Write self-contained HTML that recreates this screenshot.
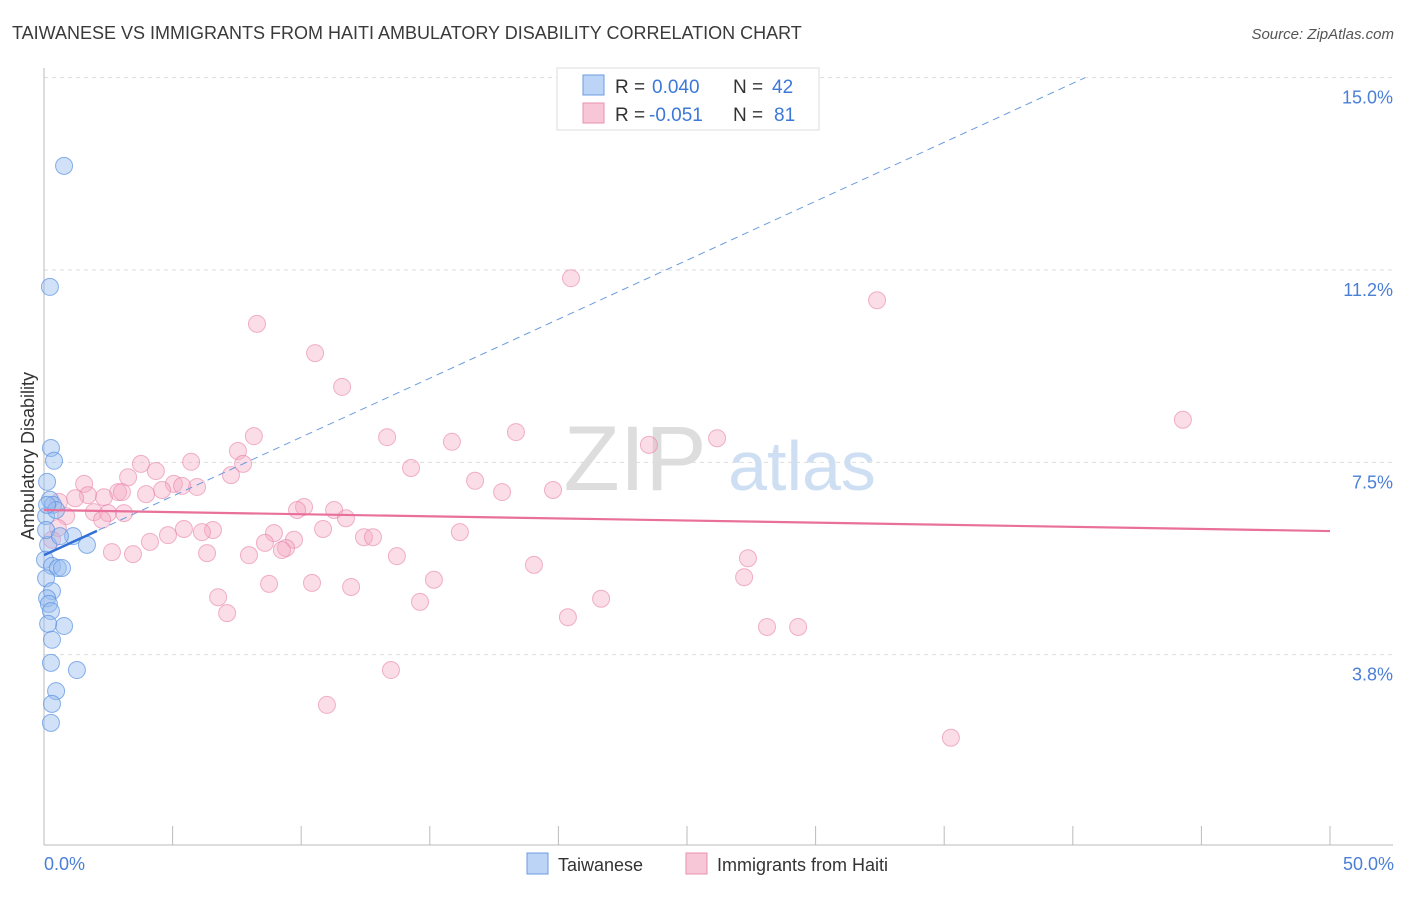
<!DOCTYPE html>
<html><head><meta charset="utf-8"><style>
body{margin:0;background:#fff;font-family:"Liberation Sans",sans-serif;}
svg text{font-family:"Liberation Sans",sans-serif;}
</style></head><body>
<svg id="chart" width="1406" height="892" xmlns="http://www.w3.org/2000/svg">
<text x="12" y="39" font-size="18" fill="#3a3a3a">TAIWANESE VS IMMIGRANTS FROM HAITI AMBULATORY DISABILITY CORRELATION CHART</text>
<text x="1394" y="39" font-size="15" fill="#555" font-style="italic" text-anchor="end">Source: ZipAtlas.com</text>
<g id="grid"></g>
<g>
<text x="635" y="490" font-size="92" fill="#ddd" font-family="Liberation Serif" text-anchor="middle">ZIP</text>
<text x="802" y="490" font-size="70" fill="#cfdff3" text-anchor="middle">atlas</text>
</g>
<line x1="44" y1="68" x2="44" y2="845" stroke="#bbb"/>
<line x1="44" y1="845" x2="1393" y2="845" stroke="#bbb"/>
<g id="xticks"></g>
<text x="44" y="870" font-size="18" fill="#4a7fd6">0.0%</text>
<text x="1394" y="870" font-size="18" fill="#4a7fd6" text-anchor="end">50.0%</text>
<text transform="translate(34,456) rotate(-90)" font-size="18" fill="#333" text-anchor="middle">Ambulatory Disability</text>
<g id="pts"></g>
<g id="trends"></g>
<g>
<rect x="557" y="68" width="262" height="62" fill="#fff" stroke="#ddd"/>
<rect x="583" y="75" width="21" height="20" fill="#bcd4f5" stroke="#6b9be0"/>
<rect x="583" y="103" width="21" height="20" fill="#f8c7d7" stroke="#e891b0"/>
<text x="615" y="93" font-size="19" fill="#333">R =</text>
<text x="652" y="93" font-size="19" fill="#3b78d8">0.040</text>
<text x="733" y="93" font-size="19" fill="#333">N =</text>
<text x="772" y="93" font-size="19" fill="#3b78d8">42</text>
<text x="615" y="121" font-size="19" fill="#333">R =</text>
<text x="649" y="121" font-size="19" fill="#3b78d8">-0.051</text>
<text x="733" y="121" font-size="19" fill="#333">N =</text>
<text x="774" y="121" font-size="19" fill="#3b78d8">81</text>
</g>
<g>
<rect x="527" y="853" width="21" height="21" fill="#bcd4f5" stroke="#6b9be0"/>
<text x="558" y="871" font-size="18" fill="#333">Taiwanese</text>
<rect x="686" y="853" width="21" height="21" fill="#f8c7d7" stroke="#e891b0"/>
<text x="717" y="871" font-size="18" fill="#333">Immigrants from Haiti</text>
</g>
</svg>
<script>
const yTicks=[3.75,7.5,11.25,15];
const yTickLabels=["3.8%","7.5%","11.2%","15.0%"];
const xTicks=[0,5,10,15,20,25,30,35,40,45,50];
const blueX=[0.78,0.23,0.27,0.39,0.12,0.23,0.35,0.08,0.47,1.13,1.67,0.16,0.04,0.31,0.54,0.70,0.08,0.31,0.12,0.19,0.27,0.78,0.16,0.31,0.27,1.28,0.47,0.31,0.27,0.08,0.62,0.12];
const blueY=[13.28,10.92,7.78,7.53,7.12,6.77,6.67,6.45,6.57,6.06,5.89,5.89,5.60,5.48,5.44,5.44,5.24,4.99,4.85,4.74,4.60,4.31,4.35,4.04,3.59,3.45,3.04,2.79,2.42,6.18,6.06,6.67];
const pinkX=[20.49,32.39,8.28,10.54,11.59,44.28,18.35,13.34,15.86,23.52,26.17,8.16,7.54,5.72,3.77,7.74,14.27,4.35,3.27,7.27,1.56,5.05,5.95,16.76,4.59,5.37,2.88,3.03,3.97,17.81,19.79,2.33,1.71,1.21,0.58,10.11,9.84,11.28,1.94,2.49,3.11,0.86,2.26,11.74,0.54,5.44,6.57,6.14,10.85,16.17,4.82,8.94,9.72,12.44,12.79,4.12,8.59,9.41,9.25,2.64,3.46,6.34,7.97,13.72,19.05,27.37,15.16,27.22,8.75,10.42,11.94,6.77,21.66,14.62,7.12,20.37,28.11,29.32,13.49,11.00,35.26,0.31];
const pinkY=[11.09,10.66,10.20,9.63,8.97,8.33,8.09,7.99,7.90,7.84,7.97,8.01,7.72,7.51,7.47,7.47,7.39,7.33,7.21,7.25,7.08,7.08,7.02,7.14,6.96,7.04,6.92,6.92,6.88,6.92,6.96,6.82,6.86,6.80,6.73,6.63,6.57,6.57,6.53,6.51,6.51,6.45,6.38,6.41,6.22,6.20,6.18,6.14,6.20,6.14,6.08,6.12,5.99,6.04,6.04,5.95,5.93,5.83,5.79,5.75,5.71,5.73,5.69,5.67,5.50,5.63,5.21,5.26,5.13,5.15,5.07,4.87,4.84,4.78,4.56,4.48,4.29,4.29,3.45,2.77,2.13,5.99];
const blueTrend=[5.69,0.23];   // intercept, slope
const pinkTrend=[6.57,-0.0082];
const NS="http://www.w3.org/2000/svg";
const xs=v=>44+v*25.72, ys=v=>847-v*51.29;
function mk(t,a,p){const e=document.createElementNS(NS,t);for(const k in a)e.setAttribute(k,a[k]);p.appendChild(e);return e;}
const grid=document.getElementById('grid');
yTicks.forEach((v,i)=>{
 const l=mk('line',{x1:44,x2:1393,y1:ys(v),y2:ys(v),stroke:'#ddd','stroke-dasharray':'4,4'},grid);
 
 
 const t=mk('text',{x:1393,y:ys(v)+26,'font-size':18,fill:'#4a7fd6','text-anchor':'end'},grid);
 t.textContent=yTickLabels[i];
 
 
});
const xt=document.getElementById('xticks');
xTicks.forEach(v=>{
 const l=mk('line',{x1:xs(v),x2:xs(v),y1:826,y2:845,stroke:'#bbb'},xt);
 
 
});
const pts=document.getElementById('pts');
pinkX.forEach((x,i)=>{
 const c=mk('circle',{cx:xs(x),cy:ys(pinkY[i]),r:8.5,fill:'rgba(244,170,196,0.4)',stroke:'rgba(232,130,168,0.6)','stroke-width':1},pts);
 
 
});
blueX.forEach((x,i)=>{
 const c=mk('circle',{cx:xs(x),cy:ys(blueY[i]),r:8.5,fill:'rgba(150,188,240,0.45)',stroke:'rgba(90,145,225,0.7)','stroke-width':1},pts);
 
 
});
const tr=document.getElementById('trends');
const bEnd=(15-blueTrend[0])/blueTrend[1];
const d=mk('line',{x1:xs(0),y1:ys(blueTrend[0]),x2:xs(bEnd),y2:ys(15),stroke:'#6b9be0','stroke-width':1,'stroke-dasharray':'7,5'},tr);


const b=mk('line',{x1:xs(0),y1:ys(blueTrend[0]),x2:xs(2.06),y2:ys(blueTrend[0]+blueTrend[1]*2.06),stroke:'#2f6fd6','stroke-width':2.5},tr);


const p=mk('line',{x1:xs(0),y1:ys(pinkTrend[0]),x2:xs(50),y2:ys(pinkTrend[0]+pinkTrend[1]*50),stroke:'#e8709a','stroke-width':2.2},tr);


</script>
</body></html>
